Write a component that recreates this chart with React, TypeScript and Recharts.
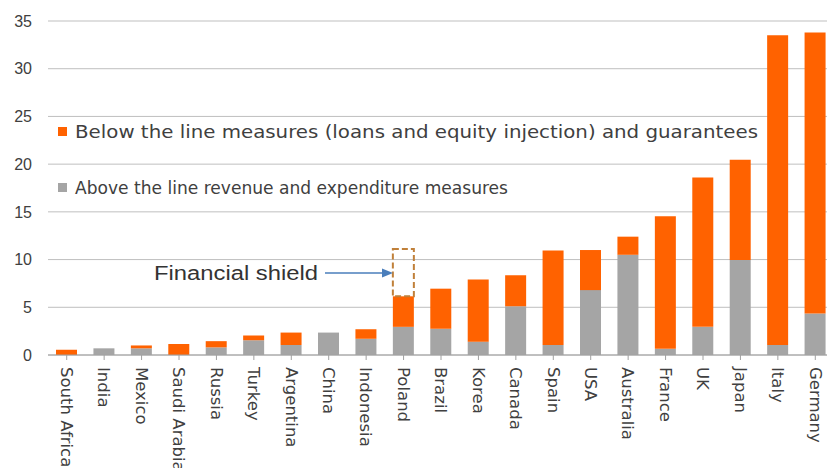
import React from 'react';
import { BarChart, Bar, XAxis, YAxis, CartesianGrid, Legend } from 'recharts';

const categories = ['South Africa', 'India', 'Mexico', 'Saudi Arabia', 'Russia', 'Turkey', 'Argentina', 'China', 'Indonesia', 'Poland', 'Brazil', 'Korea', 'Canada', 'Spain', 'USA', 'Australia', 'France', 'UK', 'Japan', 'Italy', 'Germany'];
const aboveLine = [0, 0.7, 0.7, 0, 0.8, 1.55, 1.05, 2.35, 1.7, 2.95, 2.75, 1.4, 5.1, 1.05, 6.8, 10.5, 0.65, 2.95, 9.95, 1.05, 4.35];
const belowLine = [0.55, 0, 0.3, 1.15, 0.65, 0.5, 1.3, 0, 1.0, 3.2, 4.2, 6.5, 3.25, 9.9, 4.2, 1.9, 13.9, 15.65, 10.5, 32.45, 29.45];
const shield = [null, null, null, null, null, null, null, null, null, 4.95, null, null, null, null, null, null, null, null, null, null, null];
const yTicks = [0, 5, 10, 15, 20, 25, 30, 35];
const legendLabels = ['Below the line measures (loans and equity injection) and guarantees', 'Above the line revenue and expenditure measures'];
const annotationText = 'Financial shield';

const ORANGE = '#FF6200';
const GRAY = '#A5A5A5';
const TEXT = '#404040';

const data = categories.map((c, i) => ({ name: c, above: aboveLine[i], below: belowLine[i], shield: shield[i] }));

const XTick = (props: any) => {
  const { x, y, payload } = props;
  return (
    <text x={x} y={y} transform={`rotate(90, ${x}, ${y})`} dx={5} dy="0.35em" textAnchor="start" fill={TEXT} fontSize={16.5} fontFamily="DejaVu Sans">
      {payload.value}
    </text>
  );
};

const LegendContent = () => (
  <svg width={800} height={210} style={{ overflow: 'visible', pointerEvents: 'none' }}>
    <rect x={58} y={127} width={9} height={9} fill={ORANGE} />
    <text x={75} y={138} fill={TEXT} fontSize={18} fontFamily="DejaVu Sans" textLength={683} lengthAdjust="spacingAndGlyphs">{legendLabels[0]}</text>
    <rect x={58} y={183} width={9} height={9} fill={GRAY} />
    <text x={75} y={194} fill={TEXT} fontSize={18} fontFamily="DejaVu Sans" textLength={433} lengthAdjust="spacingAndGlyphs">{legendLabels[1]}</text>
  </svg>
);

export default function App() {
  return (
    <div style={{ position: 'fixed', left: 0, top: 0, width: 827, height: 468, overflow: 'hidden', background: '#fff' }}>
      <BarChart width={834} height={468} data={data} margin={{ top: 21, right: 0, bottom: 0, left: 0 }} barSize={21}>
        <CartesianGrid vertical={false} stroke="#BFBFBF" strokeWidth={1} />
        <XAxis dataKey="name" interval={0} height={113} tick={<XTick />} tickSize={5} axisLine={{ stroke: '#A0A0A0' }} tickLine={{ stroke: '#A0A0A0' }} />
        <YAxis domain={[0, 35]} ticks={yTicks} width={48} axisLine={false} tickLine={false} tickSize={8} tickMargin={8} tick={{ fill: TEXT, fontSize: 16, fontFamily: 'Liberation Sans' }} />
        <Legend layout="vertical" align="center" verticalAlign="middle" content={<LegendContent />} wrapperStyle={{ position: 'absolute', left: 0, top: 0, width: 800, height: 210 }} />
        <Bar dataKey="above" stackId="a" fill={GRAY} isAnimationActive={false} />
        <Bar dataKey="below" stackId="a" fill={ORANGE} isAnimationActive={false} />
        <Bar dataKey="shield" stackId="a" fill="none" stroke="#C0803A" strokeWidth={2} strokeDasharray="6 3" isAnimationActive={false} />
      </BarChart>
      <svg width={827} height={468} style={{ position: 'absolute', left: 0, top: 0, pointerEvents: 'none' }}>
        <text x={154} y={280} fill="#333" fontSize={20} fontFamily="Liberation Sans" textLength={164} lengthAdjust="spacingAndGlyphs">{annotationText}</text>
        <line x1={325} y1={273} x2={384} y2={273} stroke="#4A7EBB" strokeWidth={1.5} />
        <polygon points="393,273 382,268.5 382,277.5" fill="#4A7EBB" />
      </svg>
    </div>
  );
}
